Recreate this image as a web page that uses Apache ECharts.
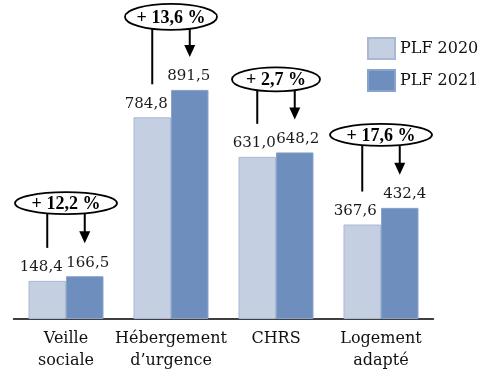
<!DOCTYPE html>
<html><head><meta charset="utf-8">
<script src="https://cdn.jsdelivr.net/npm/echarts@6/dist/echarts.min.js"></script>
<style>html,body{margin:0;padding:0;background:#fff}#c{width:488px;height:383px}</style>
</head><body><div id="c"></div>
<script>
const categories = ['Veille\nsociale', 'Hébergement\nd\u2019urgence', 'CHRS', 'Logement\nadapté'];
const plf2020 = [148.4, 784.8, 631.0, 367.6];
const plf2021 = [166.5, 891.5, 648.2, 432.4];
const variations = ['+ 12,2 %', '+ 13,6 %', '+ 2,7 %', '+ 17,6 %'];
const seriesNames = ['PLF 2020', 'PLF 2021'];

// styling only
const ellipseRx = [51, 46, 44, 51];
const ellipseRy = [11, 13, 12, 11];
const shift2020 = [-6, -6, -3, -7];
const shift2021 = [3, -1, 3, 5];
const GAP = 0.2857;
const fmt = v => v.toFixed(1).replace('.', ',');

const chart = echarts.init(document.getElementById('c'));
const serif = 'DejaVu Serif';
chart.setOption({
  animation: false,
  grid: { left: 13.5, right: 54.5, top: 62, bottom: 64 },
  legend: {
    data: seriesNames, orient: 'vertical', left: 362, top: 32, icon: 'rect',
    itemWidth: 27, itemHeight: 21, itemGap: 9,
    textStyle: { fontFamily: serif, fontSize: 16, color: '#111' }
  },
  xAxis: {
    type: 'category', data: categories,
    axisLine: { lineStyle: { color: '#000', width: 1.5 } },
    axisTick: { show: false },
    axisLabel: { interval: 0, fontFamily: serif, fontSize: 16, color: '#111', lineHeight: 22, margin: 9 }
  },
  yAxis: { type: 'value', min: 0, max: 1000, show: false, splitLine: { show: false } },
  series: [
    {
      name: seriesNames[0], type: 'bar', barGap: 0, barCategoryGap: (GAP * 100) + '%',
      data: plf2020.map((v, i) => ({ value: v, label: { offset: [shift2020[i], 0] } })),
      itemStyle: { color: '#c5cfe2', borderColor: '#aab8d4', borderWidth: 1 },
      label: { show: true, position: 'top', distance: 6, fontFamily: serif, fontSize: 15, color: '#1a1a1a', formatter: p => fmt(p.value) }
    },
    {
      name: seriesNames[1], type: 'bar', barGap: 0, barCategoryGap: (GAP * 100) + '%',
      data: plf2021.map((v, i) => ({ value: v, label: { offset: [shift2021[i], 0] } })),
      itemStyle: { color: '#6e8ebe', borderColor: '#8aa3cc', borderWidth: 1 },
      label: { show: true, position: 'top', distance: 6, fontFamily: serif, fontSize: 15, color: '#1a1a1a', formatter: p => fmt(p.value) }
    },
    {
      type: 'custom', clip: false, z: 10, silent: true,
      encode: { x: 0, y: [1, 2] },
      data: categories.map((c, i) => [i, plf2020[i], plf2021[i]]),
      renderItem: function (params, api) {
        const i = api.value(0);
        const band = api.size([1, 0])[0];
        const barW = band * (1 - GAP) / 2;
        const p20 = api.coord([i, api.value(1)]);
        const p21 = api.coord([i, api.value(2)]);
        const cx = p20[0];
        const x20 = cx - barW / 2, x21 = cx + barW / 2;
        const rx = ellipseRx[i], ry = ellipseRy[i];
        const cy = p21[1] - 73;
        const edge = dx => cy + ry * Math.sqrt(Math.max(0, 1 - (dx / rx) * (dx / rx)));
        const end20 = p20[1] - 33, end21 = p21[1] - 33;
        const ah = 12, aw = 5.5;
        return {
          type: 'group',
          children: [
            { type: 'line', shape: { x1: x20, y1: edge(barW / 2), x2: x20, y2: end20 }, style: { stroke: '#000', lineWidth: 2 } },
            { type: 'line', shape: { x1: x21, y1: edge(barW / 2), x2: x21, y2: end21 - ah + 1 }, style: { stroke: '#000', lineWidth: 2 } },
            { type: 'polygon', shape: { points: [[x21 - aw, end21 - ah], [x21 + aw, end21 - ah], [x21, end21]] }, style: { fill: '#000' } },
            { type: 'ellipse', shape: { cx: cx, cy: cy, rx: rx, ry: ry }, style: { fill: '#fff', stroke: '#000', lineWidth: 1.8 } },
            { type: 'text', style: { x: cx, y: cy + 1, text: variations[i], align: 'center', verticalAlign: 'middle', fontFamily: 'Liberation Serif', fontWeight: 'bold', fontSize: 18, fill: '#000' } }
          ]
        };
      }
    }
  ]
});
</script></body></html>
